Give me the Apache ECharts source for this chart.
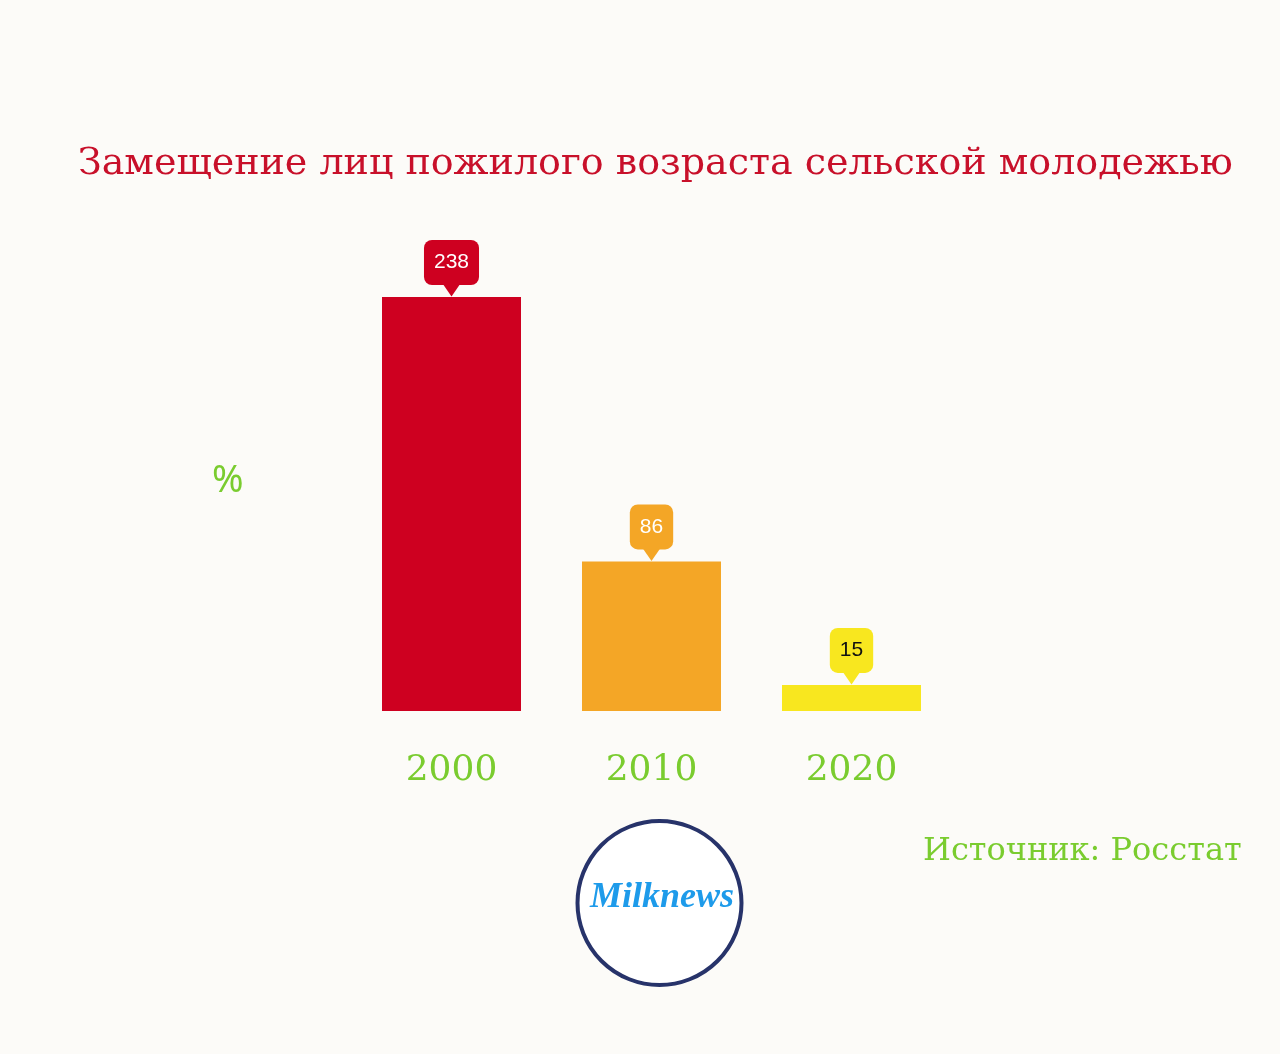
<!DOCTYPE html>
<html><head><meta charset="utf-8">
<script src="https://cdn.jsdelivr.net/npm/echarts@6/dist/echarts.min.js"></script>
<style>html,body{margin:0;padding:0;background:#FCFBF8;}#c{width:1280px;height:1054px;}</style>
</head><body><div id="c"></div>
<script>
const categories = ['2000', '2010', '2020'];
const values = [238, 86, 15];
const barColors = ['#CE0020', '#F4A626', '#F8E71F'];
const labelColors = ['#FFFFFF', '#FFFFFF', '#111111'];
const titleText = 'Замещение лиц пожилого возраста сельской молодежью';
const unitText = '%';
const sourceText = 'Источник: Росстат';
const logoText = 'Milknews';

const chart = echarts.init(document.getElementById('c'));
const serif = '"DejaVu Serif","Liberation Serif",serif';
chart.setOption({
  backgroundColor: '#FCFBF8',
  animation: false,
  title: {
    text: titleText, left: 73, top: 140,
    textStyle: {fontFamily: serif, fontSize: 38, fontWeight: 'normal', color: '#C8102A'}
  },
  grid: {left: 351.5, width: 600, top: 297, bottom: 343},
  xAxis: {
    type: 'category', data: categories,
    axisLine: {show: false}, axisTick: {show: false},
    axisLabel: {margin: 42, fontFamily: serif, fontSize: 36, color: '#7ACC2F'}
  },
  yAxis: {type: 'value', min: 0, max: 238, show: false, splitLine: {show: false}},
  series: [
    {
      type: 'bar', barWidth: 139,
      data: values.map((v, i) => ({value: v, itemStyle: {color: barColors[i]}, label: {backgroundColor: barColors[i], color: labelColors[i]}})),
      label: {
        show: true, position: 'top', distance: 12,
        fontFamily: '"Liberation Sans",Arial,sans-serif', fontSize: 21,
        padding: [12, 10, 12, 10], borderRadius: 8
      }
    },
    {
      type: 'scatter', data: values.map((v, i) => ({value: v, itemStyle: {color: barColors[i], opacity: 1}})),
      symbol: 'triangle', symbolRotate: 180, symbolSize: [18, 13], symbolOffset: [0, -7],
      silent: true, z: 3
    }
  ],
  graphic: [
    {type: 'text', left: 212, top: 462, style: {text: unitText, fontFamily: '"Noto Sans",sans-serif', fontSize: 38, fill: '#7ACC2F'}},
    {type: 'text', left: 923, top: 836, style: {text: sourceText, fontFamily: serif, fontSize: 32, fill: '#7ACC2F'}},
    {type: 'circle', shape: {cx: 659.5, cy: 903, r: 82}, style: {fill: '#FFFFFF', stroke: '#27336A', lineWidth: 4}},
    {type: 'text', x: 662, y: 898, style: {text: logoText, fontFamily: '"Liberation Serif",serif', fontStyle: 'italic', fontWeight: 'bold', fontSize: 36, fill: '#1E9BEA', align: 'center', verticalAlign: 'middle'}}
  ]
});
</script></body></html>
